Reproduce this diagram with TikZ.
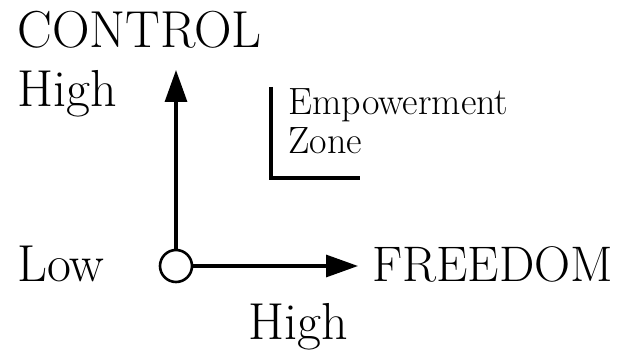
\documentclass[tikz,border=0pt]{standalone}
\usepackage{tikz}
\usetikzlibrary{arrows.meta, positioning}

\begin{document}
\begin{tikzpicture}[
        x=0.5pt, y=-0.5pt,
        label/.style={anchor=base west, inner sep=0pt, font=\fontsize{26}{30}\selectfont},
        zonetext/.style={anchor=base west, inner sep=0pt, font=\fontsize{19}{22}\selectfont},
        axis/.style={line width=1.6pt, -{Triangle[length=16pt, width=11pt]}},
        origin/.style={draw, circle, line width=1.3pt, minimum size=16pt, inner sep=0pt, fill=white}
    ]
    \useasboundingbox (0,0) rectangle (619,356);

    % Origin and axis ends - positioned with coordinates
    \node[origin] (orig) at (176,266) {};
    \coordinate (ctop) at (176,70);
    \coordinate (fright) at (358,266);

    % Axes
    \draw[axis] (orig.north) -- (ctop);
    \draw[axis] (orig.east) -- (fright);

    % Empowerment zone bracket
    \coordinate (ztop) at (271,87);
    \coordinate (zend) at (360,178);
    \draw[line width=1.6pt] (ztop) |- (zend);

    % Labels
    \node[label] (control) at (17,48) {CONTROL};
    \node[label] (chigh) at (17,107) {High};
    \node[label] (low) at (17,282) {Low};
    \node[label, font=\fontsize{25}{30}\selectfont] (freedom) at (372,282) {FREEDOM};
    \node[label] (fhigh) at (248,340) {High};
    \node[zonetext] (empower) at (288,115) {Empowerment};
    \node[zonetext] (zone) at (288,154) {Zone};

\end{tikzpicture}
\end{document}
